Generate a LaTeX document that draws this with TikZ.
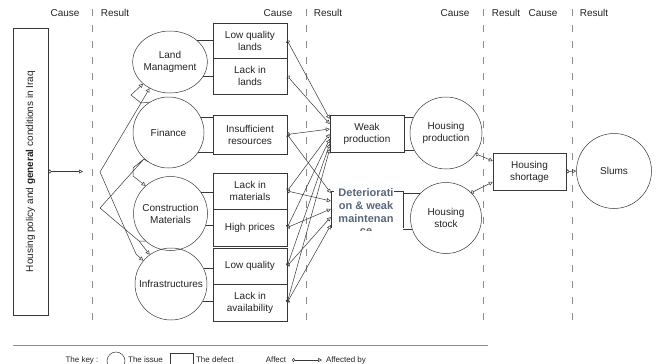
\documentclass[tikz,border=0pt]{standalone}
\usepackage{fontspec}
\setmainfont{Liberation Sans}
\usetikzlibrary{arrows.meta,shapes.geometric}
\definecolor{lc}{RGB}{55,55,55}
\definecolor{tc}{RGB}{35,35,35}
\definecolor{dc}{RGB}{140,140,140}
\definecolor{detc}{RGB}{88,102,122}
\begin{document}
\begin{tikzpicture}[x=1pt,y=-1pt,
  font=\fontsize{10}{12}\selectfont,
  every node/.style={text=tc},
  issue/.style={circle, draw=lc, line width=0.5pt, inner sep=0pt, align=center},
  defect/.style={rectangle, draw=lc, line width=0.5pt, minimum width=74pt, align=center, inner sep=0pt},
  link/.style={draw=lc, line width=0.5pt},
  aff/.style={draw=lc, line width=0.5pt, {Circle[open,length=3pt,width=4pt]}-{Triangle[open,length=4pt,width=4pt]}},
  affh/.style={draw=lc, line width=0.5pt, -{Triangle[open,length=4pt,width=4pt]}},
  sepline/.style={draw=dc, line width=0.6pt, dash pattern=on 7pt off 9pt},
  keytext/.style={font=\fontsize{8}{10}\selectfont}
]
\useasboundingbox (0,0) rectangle (656,364);

% headers
\node (c1) at (65,13) {Cause};
\node (r1) at (115,13) {Result};
\node (c2) at (278,13) {Cause};
\node (r2) at (328,13) {Result};
\node (c3) at (455,13) {Cause};
\node (r3) at (506,13) {Result};
\node (c4) at (543,13) {Cause};
\node (r4) at (594,13) {Result};

% separators
\draw[sepline] (92,9) -- (92,328);
\draw[sepline] (306,9) -- (306,328);
\draw[sepline] (483,9) -- (483,328);
\draw[sepline] (572,9) -- (572,328);
\draw[draw=dc, line width=0.6pt] (13,345) -- (488,345);

% policy box
\node[draw=lc, line width=0.5pt, minimum width=35pt, minimum height=287pt, inner sep=0pt] (policy) at (30.5,171.5)
  {\rotatebox{90}{Housing policy and \textbf{general} conditions in Iraq}};

% issues
\node[issue, ellipse, minimum width=74pt, minimum height=62pt] (land) at (170,62) {Land\\Managment};
\node[issue, minimum size=71pt] (fin) at (168.5,132.5) {Finance};
\node[issue, minimum size=74pt] (con) at (170.5,213.5) {Construction\\Materials};
\node[issue, minimum size=72pt] (inf) at (171,284) {Infrastructures};
\node[issue, minimum size=72pt] (hprod) at (446,133) {Housing\\production};
\node[issue, minimum size=71pt] (hstock) at (446,218) {Housing\\stock};
\node[issue, minimum size=75pt] (slums) at (614,171) {Slums};

% defects
\node[defect, minimum height=35pt] (lql) at (250,40.5) {Low quality\\lands};
\node[defect, minimum height=36pt] (lil) at (250,76) {Lack in\\lands};
\node[defect, minimum height=39pt] (ins) at (250,134.5) {Insufficient\\resources};
\node[defect, minimum height=36pt] (lim) at (250,191) {Lack in\\materials};
\node[defect, minimum height=37pt] (hpr) at (250,227.5) {High prices};
\node[defect, minimum height=36pt] (lq) at (250,266) {Low quality};
\node[defect, minimum height=37pt] (lia) at (250,302.5) {Lack in\\availability};
\node[defect, minimum height=37pt] (wp) at (367,133.5) {Weak\\production};
\node[defect, minimum width=73pt, minimum height=37pt] (short) at (529.5,171.5) {Housing\\shortage};
\node[minimum width=72pt, minimum height=37pt, inner sep=0pt] (det) at (367,209.5) {};
\begin{scope}
  \clip (320,185) rectangle (400,230);
  \node[font=\fontsize{11}{12.7}\selectfont\bfseries, text=detc, align=center] (dettxt) at (366,212)
    {Deteriorati\\on \& weak\\maintenan\\ce};
\end{scope}
\draw[link] ([xshift=3pt]det.north west) -- (det.north west) -- (det.south west);
\draw[link] ([xshift=-9pt]det.north east) -- (det.north east) -- (det.south east);

% issue-defect links
\draw[link] (land.39) -- (land.39 -| lql.west);
\draw[link] (land.-23) -- (land.-23 -| lil.west);
\draw[link] (fin.26) -- (fin.26 -| ins.west);
\draw[link] (fin.-33) -- (fin.-33 -| ins.west);
\draw[link] (con.34) -- (con.34 -| lim.west);
\draw[link] (con.-18) -- (con.-18 -| hpr.west);
\draw[link] (inf.26) -- (inf.26 -| lq.west);
\draw[link] (inf.-28) -- (inf.-28 -| lia.west);
\draw[link] (hprod.154) -- (hprod.154 -| wp.east);
\draw[link] (hprod.208) -- (hprod.208 -| wp.east);
\draw[link] (hstock.137) -- (hstock.137 -| det.east);
\draw[link] (hstock.198) -- (hstock.198 -| det.east);

% defect -> weak production
\draw[aff] (lql.east) -- ([yshift=14.5pt]wp.west);
\draw[aff] (lil.east) -- ([yshift=9.5pt]wp.west);
\draw[aff] (ins.east) -- ([yshift=4.5pt]wp.west);
\draw[aff] (lim.east) -- ([yshift=-0.5pt]wp.west);
\draw[aff] (hpr.east) -- ([yshift=-5.5pt]wp.west);
\draw[aff] (lq.east) -- ([yshift=-10.5pt]wp.west);
\draw[aff] (lia.east) -- ([yshift=-15.5pt]wp.west);
% defect -> deterioration
\draw[aff] (ins.east) -- ([yshift=16.5pt]det.west);
\draw[aff] (lim.east) -- ([yshift=8.5pt]det.west);
\draw[aff] (hpr.east) -- ([yshift=0.5pt]det.west);
\draw[aff] (lq.east) -- ([yshift=-7.5pt]det.west);
\draw[aff] (lia.east) -- ([yshift=-15.5pt]det.west);

% right part
\draw[aff] (hprod.-35) -- ([yshift=10.5pt]short.west);
\draw[aff] (hstock.45) -- ([yshift=-10.5pt]short.west);
\draw[aff] (short.east) -- (slums.west);

% policy arrow and left connectors
\coordinate (pend) at (83,171.5);
\draw[aff] (policy.east) -- (pend);
\coordinate (v1) at (100,172);
\coordinate (v2) at (100,208);
\coordinate (j1) at (141,103);
\coordinate (j2) at (131,95);
\coordinate (j3) at (144,159);
\coordinate (j4) at (133,168);
\coordinate (j5) at (133,176);
\coordinate (j6) at (139,241);
\coordinate (j7) at (136,254);
\draw[affh] (v1) -- (j1) -- (land.232);
\draw[affh] (j1) -- (j2) -- (land.219);
\draw[link] (fin.122) -- (j1);
\draw[affh] (v2) -- (j3) -- (j4) -- (j5) -- (con.132);
\draw[link] (fin.235) -- (j3);
\draw[affh] (v2) -- (j6) -- (inf.126);
\draw[affh] (v1) -- (j7) -- (inf.140);
\draw[link] (con.228) -- (j6);

% key
\node[keytext] (key) at (82,360) {The key :};
\node[circle, draw=lc, line width=0.5pt, minimum size=18pt, inner sep=0pt] (kc) at (116,361) {};
\node[keytext] (kci) at (145.5,360) {The issue};
\node[draw=lc, line width=0.5pt, minimum width=23pt, minimum height=14pt, inner sep=0pt] (kb) at (181.5,360) {};
\node[keytext] (kbt) at (215,360) {The defect};
\node[keytext] (ka) at (276,360) {Affect};
\coordinate (ka1) at (292,360);
\coordinate (ka2) at (322,360);
\draw[aff] (ka1) -- (ka2);
\node[keytext] (kab) at (346,360) {Affected by};
\end{tikzpicture}
\end{document}
